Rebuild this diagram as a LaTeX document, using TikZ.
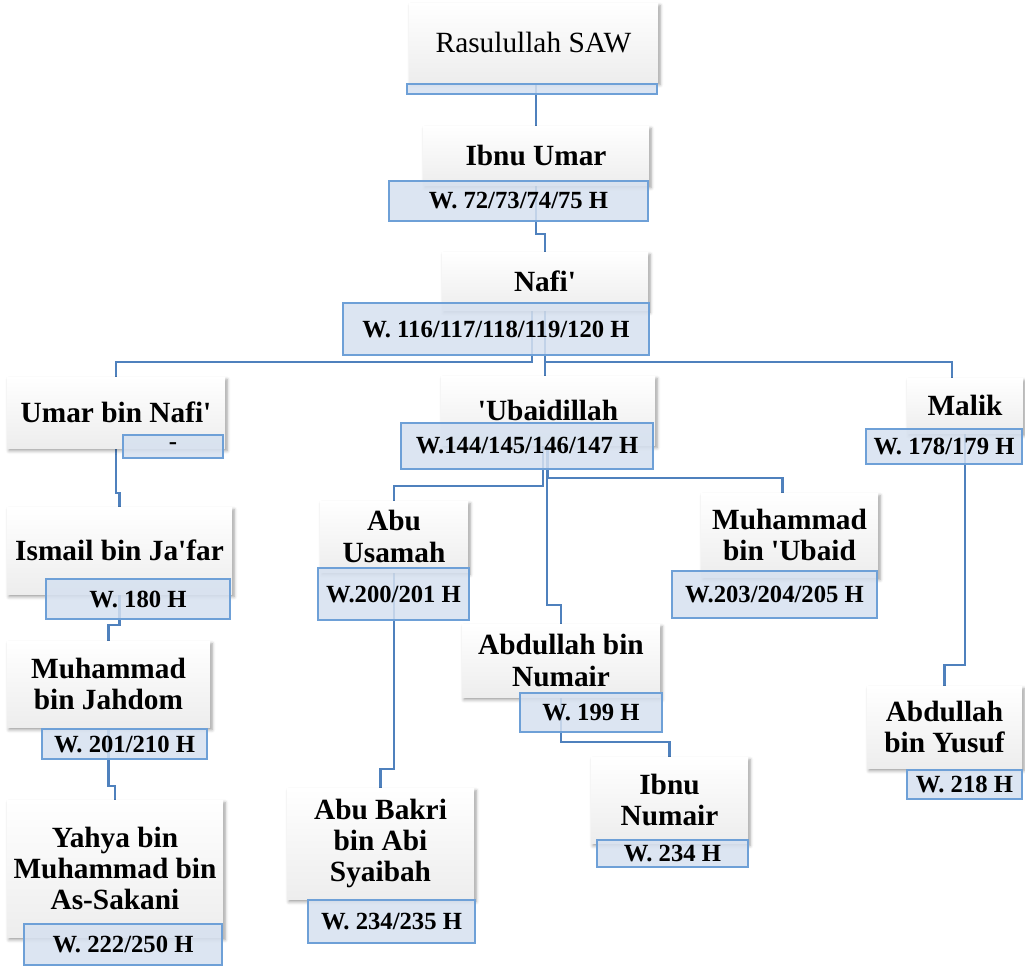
\documentclass[tikz,border=0pt]{standalone}
\usepackage{fontspec}
\setmainfont{Liberation Serif}
\usetikzlibrary{calc,backgrounds,shadows.blur}

\definecolor{linkblue}{RGB}{79,129,189}
\definecolor{tagfill}{RGB}{214,225,240}
\definecolor{tagdraw}{RGB}{110,160,215}

\newcommand{\apos}{\textquotesingle}

\begin{document}
\begin{tikzpicture}[
        x=0.75pt, y=-0.75pt,
        font=\bfseries\fontsize{22}{23.5}\selectfont,
        box/.style 2 args={
            minimum width=#1*0.75pt, minimum height=#2*0.75pt
        },
        person/.style={
            rectangle, draw=none, inner sep=2pt, align=center,
            top color=white, middle color=white, bottom color=black!7,
            blur shadow={shadow xshift=1.5pt, shadow yshift=-2pt,
                shadow blur radius=2.5pt, shadow opacity=40}
        },
        death/.style={
            rectangle, draw=tagdraw, line width=0.9pt,
            fill=tagfill, fill opacity=0.85, text opacity=1,
            inner sep=1pt, align=center,
            font=\bfseries\fontsize{18.5}{20}\selectfont
        },
        link/.style={draw=linkblue, line width=1.6pt}
    ]

    \useasboundingbox (0,0) rectangle (1025,967);

    % Top of the chain
    \node[person, box={249}{79}, font=\mdseries\fontsize{22}{24}\selectfont]
        (rasul) at (533.5,42.5) {Rasulullah SAW};
    \node[death, box={250}{10}] (rasulW) at (532,89) {};

    \node[person, box={226}{59}] (ibnuumar) at (536,155.5) {Ibnu Umar};
    \node[death, box={259}{40}] (ibnuumarW) at (518.5,201) {W. 72/73/74/75 H};

    \node[person, box={206}{58}] (nafi) at (545,281) {Nafi\apos};
    \node[death, box={306}{52}] (nafiW) at (496,329) {W. 116/117/118/119/120 H};

    % Students of Nafi'
    \node[person, box={218}{71}] (umar) at (116,412.5) {Umar bin Nafi\apos};
    \node[death, box={100}{23}] (umarW) at (173,446.5) {-};

    \node[person, box={214}{69}] (ubaid) at (548,410.5) {\apos Ubaidillah};
    \node[death, box={252}{46}] (ubaidW) at (527,446) {W.144/145/146/147 H};

    \node[person, box={116}{55}] (malik) at (965,405.5) {Malik};
    \node[death, box={156}{35}] (malikW) at (944,446.5) {W. 178/179 H};

    % Left branch
    \node[person, box={225}{87}] (ismail) at (119.5,550.5) {Ismail bin Ja\apos far};
    \node[death, box={184}{40}] (ismailW) at (138,599) {W. 180 H};

    \node[person, box={203}{86}] (jahdom) at (108.5,684) {Muhammad\\bin Jahdom};
    \node[death, box={165}{30}] (jahdomW) at (124.5,744) {W. 201/210 H};

    \node[person, box={216}{137}] (yahya) at (115,868.5)
        {Yahya bin\\Muhammad bin\\As-Sakani};
    \node[death, box={198}{41}] (yahyaW) at (123,944.5) {W. 222/250 H};

    % Middle branch
    \node[person, box={148}{71}] (abuusamah) at (394,536.5) {Abu\\Usamah};
    \node[death, box={151}{52}] (abuusamahW) at (393.5,594) {W.200/201 H};

    \node[person, box={187}{111}] (abubakri) at (380.5,843.5)
        {Abu Bakri\\bin Abi\\Syaibah};
    \node[death, box={167}{43}] (abubakriW) at (391.5,921.5) {W. 234/235 H};

    \node[person, box={177}{84}] (mbubaid) at (789.5,535) {Muhammad\\bin \apos Ubaid};
    \node[death, box={205}{47}] (mbubaidW) at (774.5,594.5) {W.203/204/205 H};

    \node[person, box={198}{73}] (numair) at (561,660.5) {Abdullah bin\\Numair};
    \node[death, box={142}{39}] (numairW) at (591,712.5) {W. 199 H};

    \node[person, box={157}{86}] (ibnunumair) at (669.5,800) {Ibnu\\Numair};
    \node[death, box={151}{27}] (ibnunumairW) at (672.5,853.5) {W. 234 H};

    % Right branch
    \node[person, box={155}{82}] (yusuf) at (944.5,727) {Abdullah\\bin Yusuf};
    \node[death, box={115}{29}] (yusufW) at (964.5,784.5) {W. 218 H};

    % Connectors
    \begin{scope}[on background layer]
        \draw[link] (rasul.south -| ibnuumar.north) -- (ibnuumar.north);
        \draw[link] (ibnuumar.south) -- ++(0,49) -| (nafi.north);

        \draw[link] ($(nafi.south)+(-13,0)$) -- ++(0,52) -| (umar.north);
        \draw[link] (nafi.south) -- (nafi.south |- ubaid.north);
        \draw[link] (nafi.south) -- ++(0,52) -| ($(malik.north)+(-13,0)$);

        \draw[link] (umar.south) -- ++(0,45) -| (ismail.north);
        \draw[link] (ismail.south) -- ++(0,31) -| (jahdom.north);
        \draw[link] (jahdom.south) -- ++(0,59) -| (yahya.north);

        \draw[link] ($(ubaid.south)+(-5,0)$) -- ++(0,41) -| (abuusamah.north);
        \draw[link] ($(ubaid.south)+(-1,0)$) -- ++(0,160) -| (numair.north);
        \draw[link] (ubaid.south) -- ++(0,33) -| ($(mbubaid.north)+(-7,0)$);

        \draw[link] (abuusamah.south) -- ++(0,197) -| (abubakri.north);
        \draw[link] (numair.south) -- ++(0,45) -| (ibnunumair.north);
        \draw[link] (malik.south) -- ++(0,232) -| (yusuf.north);
    \end{scope}

\end{tikzpicture}
\end{document}
